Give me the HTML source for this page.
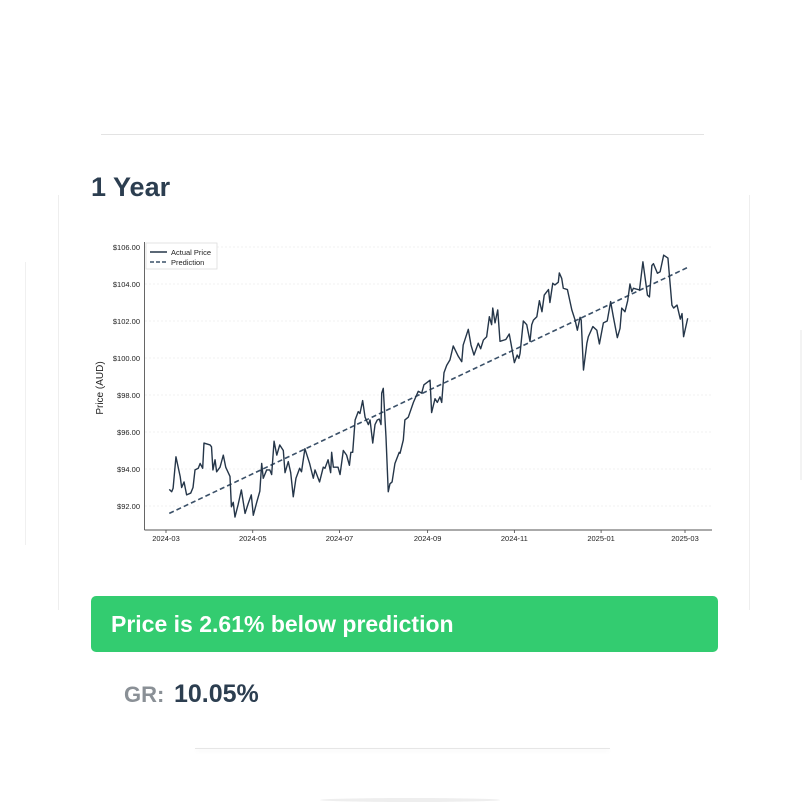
<!DOCTYPE html>
<html><head><meta charset="utf-8"><style>
body{margin:0;width:806px;height:806px;background:#fff;position:relative;overflow:hidden;font-family:"Liberation Sans",sans-serif}
.abs{position:absolute}
</style></head><body>
<div class="abs" style="left:101px;top:134px;width:603px;height:1px;background:#e3e3e3"></div>
<div class="abs" style="left:58px;top:195px;width:1px;height:415px;background:#eee"></div>
<div class="abs" style="left:749px;top:195px;width:1px;height:415px;background:#eee"></div>
<div class="abs" style="left:25px;top:262px;width:1px;height:283px;background:#f0f0f0"></div>
<div class="abs" style="left:800px;top:330px;width:2px;height:150px;background:#f3f3f3"></div>
<div class="abs" style="left:91px;top:172px;font-size:27px;font-weight:bold;color:#2c3e50">1 Year</div>
<svg class="abs" style="left:0;top:0" width="806" height="580">
<g id="grid"></g><g id="axes"></g><g id="marks"></g>
<g>
<rect x="146" y="243" width="71" height="26" fill="#fff" stroke="#ddd" stroke-width="0.8"/>
<line x1="150" y1="252" x2="167" y2="252" stroke="#253649" stroke-width="1.5"/>
<text x="171" y="255" font-size="7.5" fill="#222">Actual Price</text>
<line x1="150" y1="262" x2="167" y2="262" stroke="#3a5068" stroke-width="1.5" stroke-dasharray="4,2"/>
<text x="171" y="265" font-size="7.5" fill="#222">Prediction</text>
</g>
<text transform="translate(103,388) rotate(-90)" text-anchor="middle" font-size="10" fill="#222">Price (AUD)</text>
</svg>
<div class="abs" style="left:91px;top:596px;width:627px;height:56px;background:#33cc70;border-radius:5px;color:#fff;font-weight:bold;font-size:23px;line-height:56px;box-sizing:border-box;padding-left:20px">Price is 2.61% below prediction</div>
<div class="abs" style="left:124px;top:682px;font-size:22px;color:#8a9096;font-weight:bold">GR:</div>
<div class="abs" style="left:174px;top:680px;font-size:25px;color:#2c3e50;font-weight:bold">10.05%</div>
<div class="abs" style="left:195px;top:748px;width:415px;height:1px;background:#e6e6e6;box-shadow:0 2px 4px #eee"></div>
<div class="abs" style="left:320px;top:798px;width:180px;height:4px;border-radius:50%;background:#eee"></div>
<script>
const days=[2.3,4,5,7,10,11,12.7,14.5,17.4,19,20.4,22.7,24,25.8,26.7,31,32,33,34.5,35.6,38,40.3,42,45,46,47.3,48.5,50.8,53,55.6,57.9,60,61.4,63.8,66,67.3,68.4,70.8,73,74.3,76,77.9,80,82.5,83.7,86,87.7,89.5,91.4,94,95.3,97.7,101,103.6,104.8,108,110.6,111.8,114,115.8,116.5,117.7,121,122.4,124.7,127,129,130,131.3,133,135.2,136.4,138.3,140,142.3,143.5,145.4,147,148.6,150,151.2,151.7,152.8,154.7,156.3,157.5,159,161,164,164.6,166.9,168,170.4,174,177.4,179.8,181.4,185.7,186.8,189.2,190.8,192.7,193.9,195.5,197.4,199.7,202,205.5,208,209,212.6,214.5,216.6,219.6,221.3,223.2,225.5,227.4,229,229.8,231.4,233.3,234.9,239,241.4,242.6,245,247,248.2,249,251.3,253.7,256,257.2,258.4,260.8,262.6,264.4,266,269,270,272,273.5,275.9,276.6,278.3,279.4,282.3,285.4,287.7,289.3,291.2,292,293.6,296,297,300.2,303,304.8,307.6,310.3,312.7,314.6,317.4,319.3,320.5,322.8,324.7,326.3,327.6,328.7,333,335.4,338.6,340,341.7,342.8,345.6,347.5,350,353,355.8,357,359.4,361.7,362.9,364,366.9];
const prices=[92.9,92.77,92.96,94.66,93.58,93.0,93.3,92.6,92.7,93.0,93.95,94.04,94.3,94.04,95.4,95.3,95.2,93.95,94.5,93.85,94.1,94.75,94.1,93.6,91.96,92.2,91.4,92.1,92.87,91.6,92.15,92.6,91.5,92.2,92.8,94.3,93.5,93.95,93.95,93.7,95.5,94.75,95.3,95.0,93.8,94.4,93.8,92.5,93.5,94.04,93.85,95.1,94.3,93.5,93.95,93.3,94.1,94.04,94.5,93.8,94.9,94.1,94.1,93.7,95.0,94.75,94.2,94.9,94.9,96.65,97.1,97.0,97.7,96.8,96.4,96.65,95.4,96.4,96.65,96.7,96.4,98.1,98.36,95.75,92.77,93.2,93.3,94.3,94.9,94.85,95.57,96.65,96.8,97.6,98.2,98.1,98.55,98.8,97.05,97.8,97.6,97.9,97.6,99.2,99.6,99.9,100.65,100.1,99.8,100.7,101.55,100.7,100.16,100.8,100.5,100.97,101.15,102.23,101.8,102.7,101.9,102.6,100.9,101,101.3,100.8,99.75,100.16,99.98,100.25,102.0,101.8,100.9,101.8,102.05,102.23,103.1,102.5,103.4,103.7,103.0,104.04,103.95,104.1,104.6,104.3,103.77,103.7,102.6,102.05,101.5,102.2,102.05,99.35,100.8,101.15,101.7,101.5,100.76,101.9,102.0,103.05,102.23,101.1,101.6,102.7,102.5,103.1,104.0,103.58,103.77,103.68,105.2,103.4,103.3,105.0,105.1,104.58,104.66,105.56,105.4,102.86,102.7,102.86,102.1,102.4,101.15,102.15];
const predDays=[2.3,367];
const predPrices=[91.6,104.9];
const yTicks=[92,94,96,98,100,102,104,106];
const xTickDays=[0,61,122,184,245,306,365];
const xTickLabels=["2024-03","2024-05","2024-07","2024-09","2024-11","2025-01","2025-03"];
const X=d=>166+d*519/365, Y=v=>506-(v-92)*18.5;
const NS="http://www.w3.org/2000/svg";
function mk(p,t,a){const e=document.createElementNS(NS,t);for(const k in a)e.setAttribute(k,a[k]);p.appendChild(e);return e;}
const grid=document.getElementById('grid'),axes=document.getElementById('axes'),marks=document.getElementById('marks');
yTicks.forEach(v=>{
 const g=mk(grid,'line',{x1:145,x2:712,y1:Y(v),y2:Y(v),stroke:'#eee','stroke-width':0.8,'stroke-dasharray':'2,2'});
 
 
 const t=mk(axes,'text',{x:140,y:Y(v)+3,'text-anchor':'end','font-size':7.5,fill:'#222'});
 t.textContent='$'+v.toFixed(2);
 
 
});
xTickDays.forEach((d,i)=>{
 const t=mk(axes,'text',{x:X(d),y:541,'text-anchor':'middle','font-size':7.5,fill:'#222'});
 t.textContent=xTickLabels[i];
 
 
 mk(axes,'line',{x1:X(d),x2:X(d),y1:530,y2:533,stroke:'#444','stroke-width':0.8});
});
const ya=mk(axes,'line',{x1:144.5,x2:144.5,y1:242,y2:530,stroke:'#555','stroke-width':0.9});


const xa=mk(axes,'line',{x1:144.5,x2:712,y1:530,y2:530,stroke:'#555','stroke-width':0.9});


const pl=mk(marks,'polyline',{points:predDays.map((d,i)=>X(d)+','+Y(predPrices[i])).join(' '),fill:'none',stroke:'#3a5068','stroke-width':1.6,'stroke-dasharray':'5,3'});


const al=mk(marks,'polyline',{points:days.map((d,i)=>X(d)+','+Y(prices[i])).join(' '),fill:'none',stroke:'#253649','stroke-width':1.4,'stroke-linejoin':'round'});


</script>
</body></html>
